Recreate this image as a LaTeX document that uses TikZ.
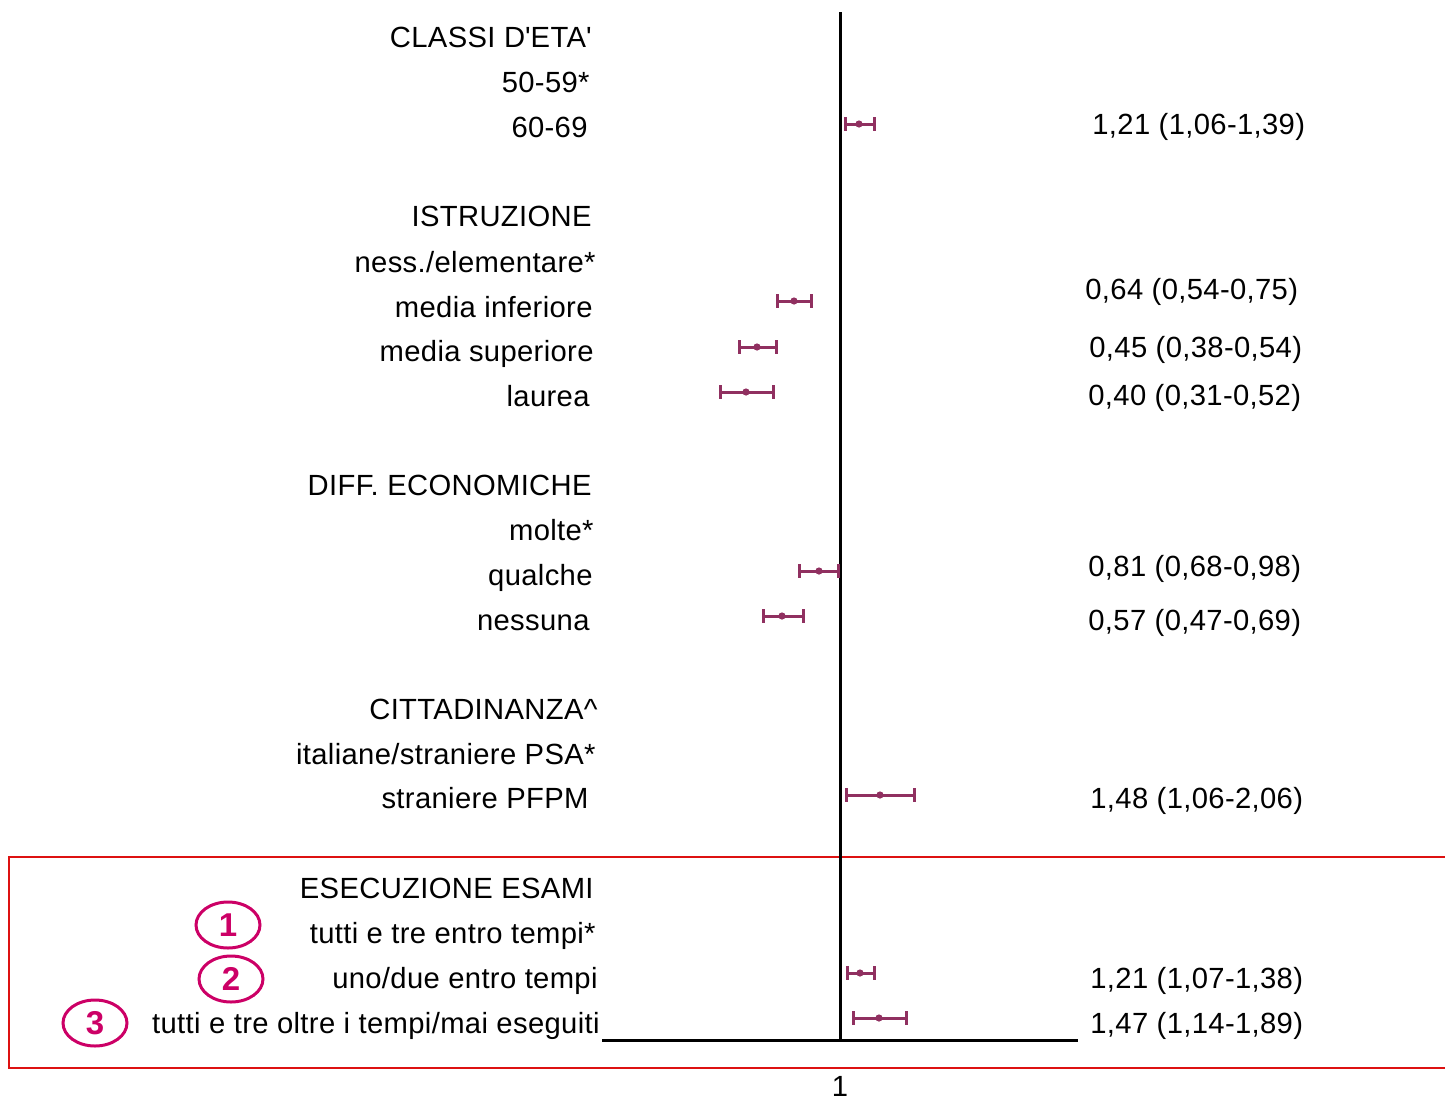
\documentclass[tikz,border=0pt]{standalone}
\usepackage{fontspec}
\setmainfont{Liberation Sans}[LetterSpace=1.2]
\usetikzlibrary{shapes.geometric}
\definecolor{plum}{RGB}{144,48,96}
\definecolor{magen}{RGB}{204,0,102}
\definecolor{boxred}{RGB}{221,17,17}
\begin{document}
\begin{tikzpicture}[
  lab/.style={anchor=east,inner sep=0pt,text height=0.72em,text depth=0pt},
  val/.style={anchor=west,inner sep=0pt,text height=0.72em,text depth=0pt},
  ci/.style={draw=plum,line width=1.5pt},
  num/.style={draw=magen,text=magen,line width=1.5pt,ellipse,minimum width=32pt,minimum height=23pt,inner sep=0pt,font=\fontsize{16.5}{18}\selectfont\bfseries}]
\pgfsetxvec{\pgfpoint{0.5pt}{0}}
\pgfsetyvec{\pgfpoint{0}{-0.5pt}}
\fontsize{14.6}{17}\selectfont
  \useasboundingbox (0,0) rectangle (1445,1098);
  % box round the exams
  \draw[boxred,line width=1pt] (1447,857)--(9,857)--(9,1068)--(1447,1068);
  % axes
  \coordinate (top) at (840,12);
  \coordinate (orig) at (840,1040);
  \coordinate (xl) at (602,1040);
  \coordinate (xr) at (1078,1040);
  \draw[line width=1.5pt] (top)--(orig);
  \draw[line width=1.5pt] (xl)--(xr);
  \node[anchor=north,inner sep=0pt,text height=0.72em,text depth=0pt] (one) at (840,1075) {1};
  % labels
  \node[lab] (eta) at (592,37) {CLASSI D\textquotesingle ETA\textquotesingle};
  \node[lab] (eta1) at (590,82) {50-59*};
  \node[lab] (eta2) at (588,127) {60-69};
  \node[lab] (istr) at (592,216) {ISTRUZIONE};
  \node[lab] (istr1) at (596,262) {ness./elementare*};
  \node[lab] (istr2) at (593,307) {media inferiore};
  \node[lab] (istr3) at (594,351) {media superiore};
  \node[lab] (istr4) at (590,396) {laurea};
  \node[lab] (diff) at (592,485) {DIFF. ECONOMICHE};
  \node[lab] (diff1) at (594,530) {molte*};
  \node[lab] (diff2) at (593,575) {qualche};
  \node[lab] (diff3) at (590,620) {nessuna};
  \node[lab] (citt) at (598,709) {CITTADINANZA\^{}};
  \node[lab] (citt1) at (596,754) {italiane/straniere PSA*};
  \node[lab] (citt2) at (589,798) {straniere PFPM};
  \node[lab] (esa) at (594,888) {ESECUZIONE ESAMI};
  \node[lab] (esa1) at (596,933) {tutti e tre entro tempi*};
  \node[lab] (esa2) at (598,978) {uno/due entro tempi};
  \node[lab] (esa3) at (600,1023) {tutti e tre oltre i tempi/mai eseguiti};
  % odds ratios
  \node[val] (v1) at (1092,124) {1,21 (1,06-1,39)};
  \node[val] (v2) at (1085,289) {0,64 (0,54-0,75)};
  \node[val] (v3) at (1089,347) {0,45 (0,38-0,54)};
  \node[val] (v4) at (1088,395) {0,40 (0,31-0,52)};
  \node[val] (v5) at (1088,566) {0,81 (0,68-0,98)};
  \node[val] (v6) at (1088,620) {0,57 (0,47-0,69)};
  \node[val] (v7) at (1090,798) {1,48 (1,06-2,06)};
  \node[val] (v8) at (1090,978) {1,21 (1,07-1,38)};
  \node[val] (v9) at (1090,1023) {1,47 (1,14-1,89)};
  % intervals
  \foreach \y/\lo/\pt/\hi in {124/845/859/874,301/777/794/811,347/739/757/776,392/720/746/773,571/799/819/838,616/763/782/803,795/846/880/914,973/847/860/874,1018/853/879/906}{
    \draw[ci] (\lo,\y-7)--(\lo,\y+7) (\lo,\y)--(\hi,\y) (\hi,\y-7)--(\hi,\y+7);
    \fill[plum] (\pt,\y) circle (1.8pt);
  }
  % numbers
  \node[num] (n1) at (228,925) {1};
  \node[num] (n2) at (231,979) {2};
  \node[num] (n3) at (95,1023) {3};
\end{tikzpicture}
\end{document}
